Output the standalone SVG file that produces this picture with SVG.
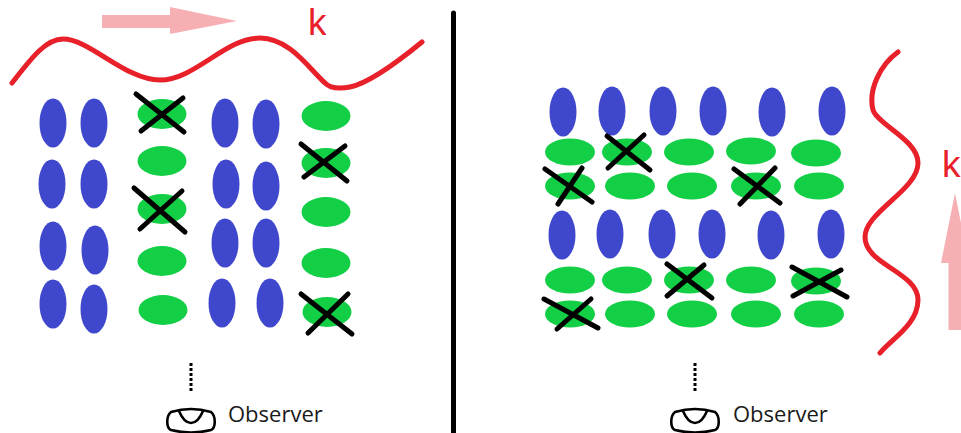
<svg xmlns="http://www.w3.org/2000/svg" width="961" height="433" viewBox="0 0 961 433">
  <style>
    .blue { fill: #3f48cc; }
    .green { fill: #12cf46; }
    .cross { stroke: #000; stroke-width: 5; stroke-linecap: round; fill: none; }
    .wave { stroke: #e8202a; stroke-width: 5; stroke-linecap: round; stroke-linejoin: round; fill: none; }
    .arrow { fill: #f6b0b3; }
    .k { font-family: "Liberation Sans", Arial, sans-serif; font-size: 37px; fill: #e8202a; }
    .obs-text { font-family: "Open Sans", "Noto Sans", sans-serif; font-size: 22px; fill: #1a1a1a; }
    .eye { stroke: #000; stroke-width: 2.6; fill: none; stroke-linejoin: round; stroke-linecap: round; }
    .dots { stroke: #000; stroke-width: 3; stroke-dasharray: 3 2; fill: none; }
  </style>
  <defs>
    <ellipse id="mb" rx="13.5" ry="24.5"/>
    <ellipse id="mgL" rx="24.5" ry="15"/>
    <ellipse id="mgR" rx="25" ry="13.5"/>
    <g id="observer-icon">
      <path class="dots" d="M0,-39 V-9"/>
      <path class="eye" d="M-20,10 Q0,4 20,10 C25,14 25,26 20,28 Q0,33 -20,28 C-25,26 -25,14 -20,10 Z"/>
      <path class="eye" d="M-12,9 Q-7,21 0,21 Q7,21 12,9"/>
    </g>
  </defs>

  <!-- divider -->
  <line x1="453.5" y1="13" x2="453.5" y2="433" stroke="#000" stroke-width="5" stroke-linecap="round"/>

  <!-- left panel: wave travelling along x -->
  <g id="left-wave">
    <path class="arrow" d="M102,15 H170 V7 L237,21 L170,34 V28 H102 Z"/>
    <text class="k" x="308" y="35">k</text>
    <path class="wave" d="M12,83 C30,60 45,39 63,39 C90,39 125,80 160,80 C195,80 225,38 260,38 C290,38 310,70 325,83 C330,88 340,89 350,87 C370,83 400,60 422,42"/>
  </g>

  <g id="left-molecules">
    <use href="#mb" class="blue" x="53" y="123"/>
    <use href="#mb" class="blue" x="94" y="123"/>
    <use href="#mb" class="blue" x="52" y="184"/>
    <use href="#mb" class="blue" x="94" y="184"/>
    <use href="#mb" class="blue" x="53" y="246"/>
    <use href="#mb" class="blue" x="95" y="250"/>
    <use href="#mb" class="blue" x="53" y="304"/>
    <use href="#mb" class="blue" x="94" y="309"/>

    <use href="#mgL" class="green" x="162" y="114"/>
    <use href="#mgL" class="green" x="162" y="161"/>
    <use href="#mgL" class="green" x="162" y="209"/>
    <use href="#mgL" class="green" x="162" y="261"/>
    <use href="#mgL" class="green" x="163" y="310"/>

    <use href="#mb" class="blue" x="225" y="123"/>
    <use href="#mb" class="blue" x="266" y="124"/>
    <use href="#mb" class="blue" x="226" y="184"/>
    <use href="#mb" class="blue" x="266" y="186"/>
    <use href="#mb" class="blue" x="225" y="243"/>
    <use href="#mb" class="blue" x="266" y="243"/>
    <use href="#mb" class="blue" x="222" y="303"/>
    <use href="#mb" class="blue" x="270" y="303"/>

    <use href="#mgL" class="green" x="326" y="116"/>
    <use href="#mgL" class="green" x="326" y="163"/>
    <use href="#mgL" class="green" x="326" y="212"/>
    <use href="#mgL" class="green" x="326" y="263"/>
    <use href="#mgL" class="green" x="327" y="312"/>
  </g>

  <g id="left-crosses">
    <path class="cross" d="M136,94 L184,132 M141,131 L183,98"/>
    <path class="cross" d="M134,188 L185,232 M140,229 L182,191"/>
    <path class="cross" d="M301,144 L347,181 M304,177 L345,146"/>
    <path class="cross" d="M301,294 L352,334 M308,333 L348,294"/>
  </g>

  <g id="left-observer">
    <use href="#observer-icon" x="191" y="402"/>
    <text class="obs-text" x="228" y="422">Observer</text>
  </g>

  <!-- right panel: wave travelling along y -->
  <g id="right-wave">
    <path class="wave" d="M898,52 C880,65 868,90 873,110 C878,125 918,140 918,163 C918,190 865,212 865,237 C865,265 918,272 918,300 C918,325 890,340 880,353"/>
    <text class="k" x="942" y="177">k</text>
    <path class="arrow" d="M948.5,330 V263 H941 L955,193 L969,263 H961.5 V330 Z"/>
  </g>

  <g id="right-molecules">
    <use href="#mb" class="blue" x="563" y="112"/>
    <use href="#mb" class="blue" x="612" y="111"/>
    <use href="#mb" class="blue" x="663" y="111"/>
    <use href="#mb" class="blue" x="713" y="111"/>
    <use href="#mb" class="blue" x="772" y="112"/>
    <use href="#mb" class="blue" x="832" y="111"/>

    <use href="#mgR" class="green" x="570" y="152"/>
    <use href="#mgR" class="green" x="627" y="152"/>
    <use href="#mgR" class="green" x="689" y="152"/>
    <use href="#mgR" class="green" x="751" y="151"/>
    <use href="#mgR" class="green" x="816" y="153"/>

    <use href="#mgR" class="green" x="570" y="186"/>
    <use href="#mgR" class="green" x="630" y="186"/>
    <use href="#mgR" class="green" x="692" y="186"/>
    <use href="#mgR" class="green" x="756" y="186"/>
    <use href="#mgR" class="green" x="819" y="186"/>

    <use href="#mb" class="blue" x="562" y="235"/>
    <use href="#mb" class="blue" x="610" y="234"/>
    <use href="#mb" class="blue" x="662" y="234"/>
    <use href="#mb" class="blue" x="712" y="234"/>
    <use href="#mb" class="blue" x="771" y="235"/>
    <use href="#mb" class="blue" x="831" y="234"/>

    <use href="#mgR" class="green" x="570" y="280"/>
    <use href="#mgR" class="green" x="627" y="280"/>
    <use href="#mgR" class="green" x="689" y="280"/>
    <use href="#mgR" class="green" x="751" y="280"/>
    <use href="#mgR" class="green" x="816" y="281"/>

    <use href="#mgR" class="green" x="570" y="314"/>
    <use href="#mgR" class="green" x="630" y="314"/>
    <use href="#mgR" class="green" x="692" y="314"/>
    <use href="#mgR" class="green" x="756" y="314"/>
    <use href="#mgR" class="green" x="819" y="314"/>
  </g>

  <g id="right-crosses">
    <path class="cross" d="M607,136 L650,170 M608,168 L644,135"/>
    <path class="cross" d="M545,169 L592,202 M558,204 L582,168"/>
    <path class="cross" d="M734,169 L780,203 M740,204 L775,168"/>
    <path class="cross" d="M667,264 L712,298 M667,296 L704,265"/>
    <path class="cross" d="M792,267 L847,297 M793,296 L841,270"/>
    <path class="cross" d="M544,299 L598,328 M557,329 L591,299"/>
  </g>

  <g id="right-observer">
    <use href="#observer-icon" x="695" y="402"/>
    <text class="obs-text" x="733" y="422">Observer</text>
  </g>
</svg>
